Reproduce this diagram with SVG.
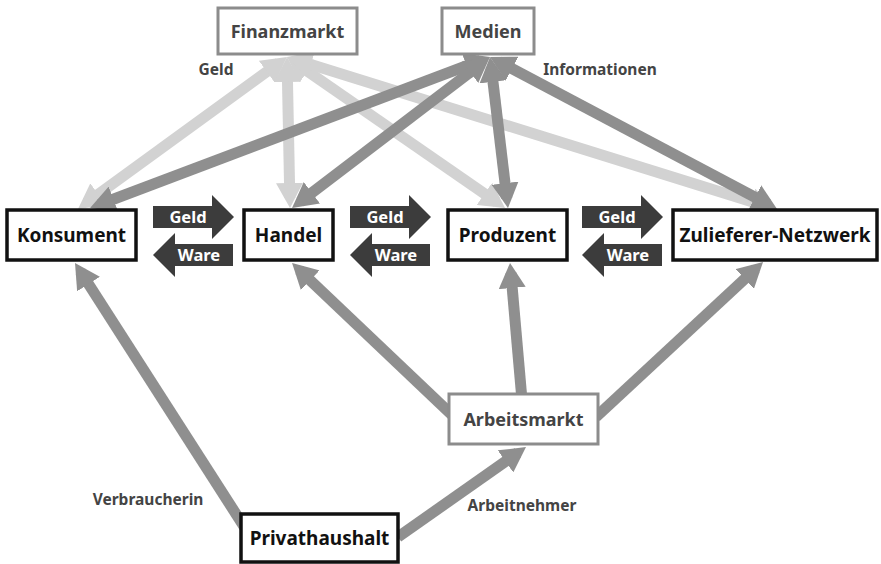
<svg xmlns="http://www.w3.org/2000/svg" width="881" height="564" viewBox="0 0 881 564">
<style>
  .lt { stroke: #d2d2d2; stroke-width: 11; fill: none; }
  .dk { stroke: #8f8f8f; stroke-width: 11; fill: none; }
  .bx { fill: #ffffff; stroke: #111111; stroke-width: 3.5; }
  .gb { fill: #ffffff; stroke: #8c8c8c; stroke-width: 3; }
  .nt { font-family: "Noto Sans", "DejaVu Sans", sans-serif; font-weight: bold; font-size: 19px; fill: #111111; text-anchor: middle; }
  .gt { font-family: "Noto Sans", "DejaVu Sans", sans-serif; font-weight: bold; font-size: 18px; fill: #444444; text-anchor: middle; }
  .lb { font-family: "Noto Sans", "DejaVu Sans", sans-serif; font-weight: bold; font-size: 15.5px; fill: #444444; text-anchor: middle; }
  .ba { fill: #3c3c3c; }
  .bt { font-family: "Noto Sans", "DejaVu Sans", sans-serif; font-weight: bold; font-size: 16.5px; fill: #ffffff; text-anchor: middle; }
</style>
<defs>
  <marker id="hl" markerUnits="userSpaceOnUse" markerWidth="25" markerHeight="27" viewBox="0 0 25 27" refX="15" refY="13.5" orient="auto-start-reverse">
    <path d="M0,0 L25,13.5 L0,27 z" fill="#d2d2d2"/>
  </marker>
  <marker id="hd" markerUnits="userSpaceOnUse" markerWidth="25" markerHeight="27" viewBox="0 0 25 27" refX="15" refY="13.5" orient="auto-start-reverse">
    <path d="M0,0 L25,13.5 L0,27 z" fill="#8f8f8f"/>
  </marker>
</defs>

<g id="connectors">
  <!-- Finanzmarkt (light) -->
  <line class="lt" x1="278.9" y1="62.9" x2="86.1" y2="203.1" marker-start="url(#hl)" marker-end="url(#hl)"/>
  <line class="lt" x1="287.2" y1="67" x2="289.8" y2="198" marker-start="url(#hl)" marker-end="url(#hl)"/>
  <line class="lt" x1="295.2" y1="62.7" x2="496.8" y2="202.3" marker-start="url(#hl)" marker-end="url(#hl)"/>
  <line class="lt" x1="296.5" y1="60" x2="765.5" y2="206" marker-start="url(#hl)" marker-end="url(#hl)"/>
  <!-- Medien (dark) -->
  <line class="dk" x1="480.6" y1="60.5" x2="99.4" y2="204.5" marker-start="url(#hd)" marker-end="url(#hd)"/>
  <line class="dk" x1="482" y1="63.1" x2="300" y2="201.9" marker-start="url(#hd)" marker-end="url(#hd)"/>
  <line class="dk" x1="491.2" y1="66.9" x2="506.8" y2="198.1" marker-start="url(#hd)" marker-end="url(#hd)"/>
  <line class="dk" x1="498.8" y1="61.7" x2="768.2" y2="204.3" marker-start="url(#hd)" marker-end="url(#hd)"/>
  <!-- bottom -->
  <line class="dk" x1="245" y1="528" x2="80.4" y2="271.4" marker-end="url(#hd)"/>
  <line class="dk" x1="398" y1="537" x2="517.8" y2="452.8" marker-end="url(#hd)"/>
  <line class="dk" x1="452" y1="415" x2="299.3" y2="269.9" marker-end="url(#hd)"/>
  <line class="dk" x1="522" y1="400" x2="510.9" y2="273" marker-end="url(#hd)"/>
  <line class="dk" x1="596" y1="417" x2="755.7" y2="268.8" marker-end="url(#hd)"/>
</g>

<g id="flow-arrows">
  <g id="geld-1"><polygon class="ba" points="153,206 212,206 212,195 234,217 212,239 212,228 153,228"/><text class="bt" x="188" y="223">Geld</text></g>
  <g id="ware-1"><polygon class="ba" points="233,244 175,244 175,233 153,255 175,277 175,266 233,266"/><text class="bt" x="199" y="261">Ware</text></g>
  <g id="geld-2"><polygon class="ba" points="350,206 409,206 409,195 431,217 409,239 409,228 350,228"/><text class="bt" x="385" y="223">Geld</text></g>
  <g id="ware-2"><polygon class="ba" points="430,244 372,244 372,233 350,255 372,277 372,266 430,266"/><text class="bt" x="396" y="261">Ware</text></g>
  <g id="geld-3"><polygon class="ba" points="582,206 641,206 641,195 663,217 641,239 641,228 582,228"/><text class="bt" x="617" y="223">Geld</text></g>
  <g id="ware-3"><polygon class="ba" points="662,244 604,244 604,233 582,255 604,277 604,266 662,266"/><text class="bt" x="628" y="261">Ware</text></g>
</g>

<g id="labels">
  <text class="lb" x="216" y="75">Geld</text>
  <text class="lb" x="600" y="75">Informationen</text>
  <text class="lb" x="148" y="505">Verbraucherin</text>
  <text class="lb" x="522" y="511">Arbeitnehmer</text>
</g>

<g id="finanzmarkt"><rect class="gb" x="218" y="8" width="139" height="46"/><text class="gt" x="287.5" y="38">Finanzmarkt</text></g>
<g id="medien"><rect class="gb" x="442" y="8" width="92" height="46"/><text class="gt" x="488" y="38">Medien</text></g>
<g id="konsument"><rect class="bx" x="7" y="210" width="129" height="50"/><text class="nt" x="71.5" y="242">Konsument</text></g>
<g id="handel"><rect class="bx" x="244" y="210" width="89" height="50"/><text class="nt" x="288.5" y="242">Handel</text></g>
<g id="produzent"><rect class="bx" x="448" y="210" width="119" height="50"/><text class="nt" x="507.5" y="242">Produzent</text></g>
<g id="zulieferer"><rect class="bx" x="673" y="210" width="204" height="50"/><text class="nt" x="775" y="242">Zulieferer-Netzwerk</text></g>
<g id="arbeitsmarkt"><rect class="gb" x="449" y="394" width="149" height="50"/><text class="gt" x="523.5" y="426">Arbeitsmarkt</text></g>
<g id="privathaushalt"><rect class="bx" x="241" y="514" width="157" height="48"/><text class="nt" x="319.5" y="545">Privathaushalt</text></g>
</svg>
